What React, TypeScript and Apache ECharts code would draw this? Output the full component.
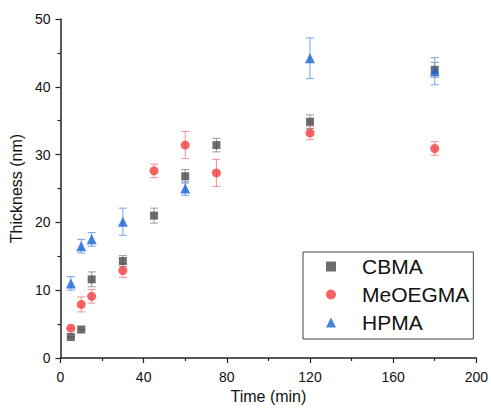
import React, { useEffect, useRef } from "react";
import * as echarts from "echarts";

const times = [5, 10, 15, 30, 45, 60, 75, 120, 180];
const cbmaY = [3.1, 4.2, 11.6, 14.3, 21.0, 26.8, 31.4, 34.85, 42.5];
const cbmaErr = [0, 0, 1.1, 0.8, 1.1, 1.0, 1.0, 1.0, 1.1];
const meoY = [4.4, 7.9, 9.1, 12.9, 27.6, 31.4, 27.3, 33.2, 30.9];
const meoErr = [0, 1.1, 1.0, 1.0, 1.0, 2.0, 2.0, 1.0, 1.0];
const hpmaTimes = [5, 10, 15, 30, 60, 120, 180];
const hpmaY = [11.0, 16.5, 17.5, 20.1, 25.0, 44.2, 42.3];
const hpmaErr = [1.0, 1.0, 1.0, 2.0, 1.0, 3.0, 2.0];
const xTicks = [0, 40, 80, 120, 160, 200];
const yTicks = [0, 10, 20, 30, 40, 50];

const FONT = "Arial, 'Liberation Sans', sans-serif";

const errSeries = (name: string, xs: number[], ys: number[], es: number[], color: string) => ({
  type: "custom",
  name,
  z: 1,
  silent: true,
  data: xs.map((x, i) => [x, ys[i] - es[i], ys[i] + es[i]]),
  renderItem: (params: any, api: any) => {
    const lo = api.coord([api.value(0), api.value(1)]);
    const hi = api.coord([api.value(0), api.value(2)]);
    const w = 4;
    const style = { stroke: color, lineWidth: 1 };
    return {
      type: "group",
      children: [
        { type: "line", shape: { x1: lo[0], y1: lo[1], x2: hi[0], y2: hi[1] }, style },
        { type: "line", shape: { x1: lo[0] - w, y1: lo[1], x2: lo[0] + w, y2: lo[1] }, style },
        { type: "line", shape: { x1: hi[0] - w, y1: hi[1], x2: hi[0] + w, y2: hi[1] }, style },
      ],
    };
  },
});

export default function App() {
  const ref = useRef<HTMLDivElement>(null);
  useEffect(() => {
    if (!ref.current) return;
    const chart = echarts.init(ref.current, undefined, { renderer: "svg" });
    const axisCommon = {
      axisLine: { show: true, lineStyle: { color: "#222", width: 1.5 } },
      axisTick: { show: true, inside: false, length: 5, lineStyle: { color: "#222", width: 1.2 } },
      minorTick: { show: true, splitNumber: 2, length: 3, lineStyle: { color: "#222", width: 1.2 } },
      splitLine: { show: false },
      axisLabel: { color: "#111", fontSize: 14, fontFamily: FONT },
      nameTextStyle: { color: "#111", fontSize: 16, fontFamily: FONT },
    };
    chart.setOption({
      animation: false,
      backgroundColor: "#fff",
      grid: { left: 57, right: 12, top: 19, bottom: 53, containLabel: false },
      xAxis: {
        type: "value",
        min: xTicks[0],
        max: xTicks[xTicks.length - 1],
        interval: 40,
        name: "Time (min)",
        nameLocation: "middle",
        nameGap: 27,
        ...axisCommon,
        axisLabel: { ...axisCommon.axisLabel, margin: 12 },
      },
      yAxis: {
        type: "value",
        min: yTicks[0],
        max: yTicks[yTicks.length - 1],
        interval: 10,
        name: "Thickness (nm)",
        nameLocation: "middle",
        nameGap: 30,
        ...axisCommon,
        axisLabel: { ...axisCommon.axisLabel, margin: 10 },
      },
      legend: {
        orient: "vertical",
        left: 303,
        top: 252,
        data: ["CBMA", "MeOEGMA", "HPMA"],
        itemWidth: 10,
        itemHeight: 10,
        itemGap: 7,
        padding: [4, 4, 6, 23],
        borderColor: "#444",
        borderWidth: 1,
        textStyle: { fontSize: 21, color: "#111", fontFamily: FONT, lineHeight: 20, padding: [0, 0, 0, 21] },
      },
      series: [
        errSeries("CBMA err", times, cbmaY, cbmaErr, "#9a9a9a"),
        errSeries("MeOEGMA err", times, meoY, meoErr, "#f79090"),
        errSeries("HPMA err", hpmaTimes, hpmaY, hpmaErr, "#6fa3ee"),
        {
          type: "scatter",
          name: "CBMA",
          z: 3,
          symbol: "rect",
          symbolSize: 8,
          itemStyle: { color: "#4a4a4a" },
          data: times.map((x, i) => [x, cbmaY[i]]),
        },
        {
          type: "scatter",
          name: "MeOEGMA",
          z: 3,
          symbol: "circle",
          symbolSize: 9,
          itemStyle: { color: "#f23d3d" },
          data: times.map((x, i) => [x, meoY[i]]),
        },
        {
          type: "scatter",
          name: "HPMA",
          z: 3,
          symbol: "triangle",
          symbolSize: 10,
          itemStyle: { color: "#1a63d9" },
          data: hpmaTimes.map((x, i) => [x, hpmaY[i]]),
        },
      ],
    });
    return () => chart.dispose();
  }, []);
  return <div ref={ref} style={{ width: 491, height: 411, position: "absolute", left: 0, top: 0 }} />;
}
